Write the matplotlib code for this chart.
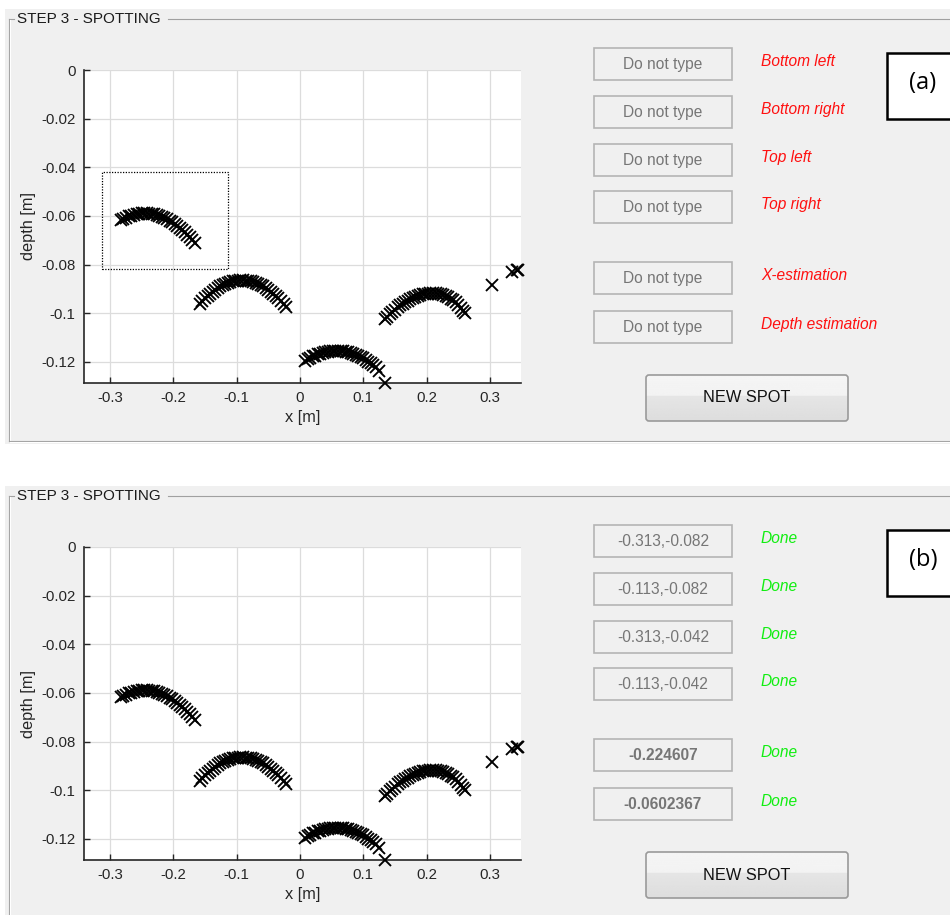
import numpy as np
import matplotlib
matplotlib.use("Agg")
import matplotlib.pyplot as plt
from matplotlib.patches import Rectangle, FancyBboxPatch

plt.rcParams['font.family'] = ['Liberation Sans', 'DejaVu Sans']

# spotted hyperbola points (x [m], depth [m])
arc1_x = [-0.283, -0.279, -0.275, -0.270, -0.266, -0.262, -0.258, -0.254, -0.250, -0.246,
          -0.242, -0.238, -0.234, -0.230, -0.226, -0.222, -0.218, -0.214, -0.210, -0.206,
          -0.202, -0.198, -0.194, -0.190, -0.186, -0.182, -0.178, -0.174, -0.170, -0.166]
arc1_y = [-0.0618, -0.0613, -0.0608, -0.0602, -0.0599, -0.0596, -0.0593, -0.0592, -0.0590, -0.0590,
          -0.0590, -0.0591, -0.0592, -0.0594, -0.0597, -0.0600, -0.0604, -0.0609, -0.0614, -0.0620,
          -0.0626, -0.0633, -0.0641, -0.0649, -0.0658, -0.0667, -0.0678, -0.0688, -0.0700, -0.0712]

arc2_x = [-0.158, -0.154, -0.150, -0.146, -0.142, -0.138, -0.134, -0.130, -0.126, -0.122,
          -0.118, -0.114, -0.110, -0.106, -0.102, -0.098, -0.094, -0.090, -0.086, -0.082,
          -0.078, -0.074, -0.070, -0.066, -0.062, -0.058, -0.054, -0.050, -0.046, -0.042,
          -0.038, -0.034, -0.030, -0.026, -0.022]
arc2_y = [-0.0961, -0.0950, -0.0939, -0.0929, -0.0920, -0.0912, -0.0904, -0.0897, -0.0890, -0.0885,
          -0.0880, -0.0876, -0.0872, -0.0869, -0.0867, -0.0866, -0.0865, -0.0865, -0.0866, -0.0867,
          -0.0869, -0.0872, -0.0876, -0.0880, -0.0885, -0.0890, -0.0897, -0.0904, -0.0912, -0.0920,
          -0.0929, -0.0939, -0.0950, -0.0961, -0.0973]

arc3_x = [0.008, 0.012, 0.016, 0.020, 0.024, 0.028, 0.032, 0.036, 0.040, 0.044,
          0.048, 0.052, 0.056, 0.060, 0.064, 0.068, 0.072, 0.076, 0.080, 0.084,
          0.088, 0.092, 0.096, 0.100, 0.104, 0.108, 0.112, 0.116, 0.120, 0.124, 0.134]
arc3_y = [-0.1196, -0.1189, -0.1184, -0.1178, -0.1174, -0.1169, -0.1166, -0.1163, -0.1160, -0.1158,
          -0.1156, -0.1155, -0.1155, -0.1155, -0.1156, -0.1157, -0.1159, -0.1161, -0.1164, -0.1167,
          -0.1171, -0.1176, -0.1181, -0.1186, -0.1193, -0.1199, -0.1206, -0.1214, -0.1222, -0.1238, -0.1287]

arc4_x = [0.134, 0.138, 0.142, 0.146, 0.150, 0.154, 0.158, 0.162, 0.166, 0.170,
          0.174, 0.178, 0.182, 0.186, 0.190, 0.194, 0.198, 0.202, 0.206, 0.210,
          0.214, 0.218, 0.222, 0.226, 0.230, 0.234, 0.238, 0.242, 0.246, 0.250,
          0.254, 0.258, 0.261, 0.303, 0.335, 0.343, 0.345]
arc4_y = [-0.1025, -0.1014, -0.1004, -0.0994, -0.0985, -0.0976, -0.0968, -0.0961, -0.0954, -0.0948,
          -0.0942, -0.0937, -0.0933, -0.0929, -0.0925, -0.0923, -0.0921, -0.0919, -0.0918, -0.0918,
          -0.0918, -0.0920, -0.0922, -0.0925, -0.0929, -0.0934, -0.0940, -0.0947, -0.0954, -0.0966,
          -0.0977, -0.0990, -0.1000, -0.0882, -0.0832, -0.0824, -0.0822]

# selection box corners (x, depth)
box_x = [-0.313, -0.113]
box_y = [-0.082, -0.042]

x_ticks = [-0.3, -0.2, -0.1, 0, 0.1, 0.2, 0.3]
x_ticklabels = ['-0.3', '-0.2', '-0.1', '0', '0.1', '0.2', '0.3']
y_ticks = [0, -0.02, -0.04, -0.06, -0.08, -0.1, -0.12]
y_ticklabels = ['0', '-0.02', '-0.04', '-0.06', '-0.08', '-0.1', '-0.12']

field_names = ['Bottom left', 'Bottom right', 'Top left', 'Top right', 'X-estimation', 'Depth estimation']
fields_a = ['Do not type'] * 6
fields_b = ['-0.313,-0.082', '-0.113,-0.082', '-0.313,-0.042', '-0.113,-0.042', '-0.224607', '-0.0602367']
status_b = ['Done'] * 6

W, H = 950, 915
fig = plt.figure(figsize=(W / 100, H / 100), dpi=100, facecolor='white')

bg = fig.add_axes([0, 0, 1, 1], zorder=0)
bg.set_xlim(0, W)
bg.set_ylim(H, 0)
bg.axis('off')

GRAY = '#f0f0f0'
field_tops = [48, 96, 144, 191, 262, 311]


def panel(off, bottom, label, fields, labels, label_color, bold_last):
    bg.add_patch(Rectangle((5, off + 9), W, bottom - (off + 9), facecolor=GRAY, edgecolor='none'))
    # etched frame
    fy = off + 19
    bg.plot([9, 14], [fy, fy], color='#a0a0a0', lw=0.8)
    bg.plot([168, W], [fy, fy], color='#a0a0a0', lw=0.8)
    bg.plot([9, 9], [fy, bottom - 3], color='#a0a0a0', lw=0.8)
    bg.plot([10.3, 10.3], [fy + 1, bottom - 3], color='white', lw=0.8)
    if bottom < H:
        bg.plot([9, W], [bottom - 3, bottom - 3], color='#a0a0a0', lw=0.8)
        bg.plot([10, W], [bottom - 1.7, bottom - 1.7], color='white', lw=0.8)
    bg.text(17, fy, 'STEP 3 - SPOTTING', fontsize=11, color='#1a1a1a', va='center', ha='left')

    for i, top in enumerate(field_tops):
        t = top + off
        bg.add_patch(Rectangle((594, t), 138, 32, facecolor=GRAY, edgecolor='#b4b4b4', lw=1.2))
        weight = 'bold' if (bold_last and i >= 4) else 'normal'
        bg.text(663, t + 16.5, fields[i], fontsize=11.2, color='#767676', ha='center', va='center',
                fontweight=weight)
        bg.text(761, t + 13.5, labels[i], fontsize=11.2, color=label_color, ha='left', va='center',
                style='italic')

    # button with gradient
    by = off + 375
    btn = FancyBboxPatch((646, by), 202, 46, boxstyle='round,pad=0,rounding_size=3',
                         facecolor='none', edgecolor='#9a9a9a', lw=1.2, zorder=3)
    bg.add_patch(btn)
    grad = np.linspace(0, 1, 100).reshape(-1, 1)
    grad = np.where(grad < 0.45, 0.96 - 0.02 * grad, 0.90 - 0.06 * (grad - 0.45))
    im = bg.imshow(grad, cmap='gray', vmin=0, vmax=1, extent=(646, 848, by + 46, by),
                   aspect='auto', zorder=2)
    im.set_clip_path(btn)
    bg.text(747, by + 23, 'NEW SPOT', fontsize=11.8, color='#111111', ha='center', va='center', zorder=4)

    # figure label box
    bg.add_patch(Rectangle((887, off + 53), 80, 66, facecolor='white', edgecolor='black', lw=1.8))
    bg.text(923, off + 83, label, fontsize=17, color='black', ha='center', va='center',
            family=['Open Sans', 'DejaVu Sans'])


panel(0, 444, '(a)', fields_a, field_names, '#ff1010', False)
panel(477, H + 5, '(b)', fields_b, status_b, '#11ee11', True)
bg.set_xlim(0, W)
bg.set_ylim(H, 0)


def spot_axes(top_px, show_box):
    ax = fig.add_axes([84 / W, 1 - (top_px + 313) / H, 437 / W, 313 / H], zorder=2)
    ax.set_facecolor('white')
    for xs, ys in [(arc1_x, arc1_y), (arc2_x, arc2_y), (arc3_x, arc3_y), (arc4_x, arc4_y)]:
        ax.plot(xs, ys, 'x', color='black', markersize=8.3, mew=1.35, clip_on=False, zorder=3)
    if show_box:
        ax.plot([box_x[0], box_x[1], box_x[1], box_x[0], box_x[0]],
                [box_y[0], box_y[0], box_y[1], box_y[1], box_y[0]],
                color='black', lw=0.9, ls=(0, (1, 1.2)), zorder=2)
    ax.set_xlim(-0.341, 0.349)
    ax.set_ylim(-0.1287, 0)
    ax.set_xticks(x_ticks)
    ax.set_xticklabels(x_ticklabels)
    ax.set_yticks(y_ticks)
    ax.set_yticklabels(y_ticklabels)
    ax.grid(True, color='#dcdcdc', lw=0.9)
    ax.set_axisbelow(True)
    for s in ['top', 'right']:
        ax.spines[s].set_visible(False)
    for s in ['left', 'bottom']:
        ax.spines[s].set_color('#262626')
        ax.spines[s].set_linewidth(1.2)
    ax.tick_params(direction='in', length=4, width=1, colors='#262626', labelsize=10.8, pad=6)
    ax.set_xlabel('x [m]', fontsize=11.8, color='#262626', labelpad=3)
    ax.set_ylabel('depth [m]', fontsize=11.8, color='#262626', labelpad=4)
    return ax


spot_axes(70, True)
spot_axes(547, False)

fig.savefig('out.png', dpi=100, facecolor='white')
